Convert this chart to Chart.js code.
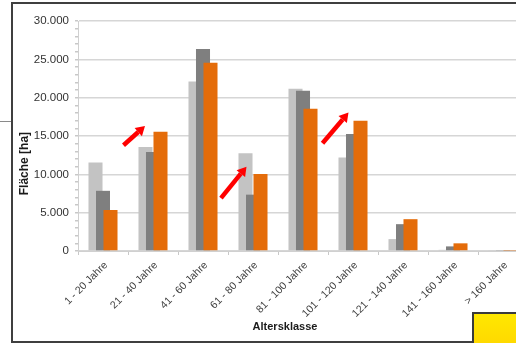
<!DOCTYPE html>
<html>
<head>
<meta charset="utf-8">
<script src="https://cdn.jsdelivr.net/npm/chart.js@4/dist/chart.umd.min.js"></script>
<style>
  html, body { margin: 0; padding: 0; background: #fff; overflow: hidden; }
  body { width: 516px; height: 343px; position: relative; }
  #frame { position: absolute; left: 11px; top: 2px; width: 560px; height: 337px;
           border: 2px solid #3f3f3f; box-sizing: content-box; }
  #stub { position: absolute; left: 0; top: 121px; width: 11px; height: 1px; background: #8a8a8a; }
  #wrap { position: absolute; left: 0; top: 0; width: 540px; height: 343px; }
  #badge { position: absolute; left: 472px; top: 312px; width: 60px; height: 40px;
           border: 2px solid #3a3a3a; background: linear-gradient(#ffe800, #ffd400); }
</style>
</head>
<body>
<div id="frame"></div>
<div id="stub"></div>
<div id="wrap"><canvas id="c" width="540" height="343"></canvas></div>
<div id="badge"></div>
<script>
// Altersklassen und Flächen (ha) je Erhebung
const categories = ['1 - 20 Jahre', '21 - 40 Jahre', '41 - 60 Jahre', '61 - 80 Jahre', '81 - 100 Jahre',
                    '101 - 120 Jahre', '121 - 140 Jahre', '141 - 160 Jahre', '> 160 Jahre'];
const flaecheA = [11550, 13550, 22100, 12750, 21150, 12200, 1550, 150, 80];
const flaecheB = [7850, 12900, 26350, 7350, 20900, 15250, 3500, 600, 120];
const flaecheC = [5350, 15550, 24550, 10050, 18550, 17000, 4150, 1000, 50];
const yTicks = [0, 5000, 10000, 15000, 20000, 25000, 30000];

// Hervorhebungspfeile in Achsenkoordinaten: [Kategorie-Index, Fläche]
const arrows = [
  { from: [0.41, 13800], to: [0.84, 16300] },
  { from: [2.36, 6900],  to: [2.87, 11000] },
  { from: [4.39, 14050], to: [4.91, 18050] }
];

const fmt = v => String(v).replace(/\B(?=(\d{3})+(?!\d))/g, '.');
const FONT = "'Liberation Sans', Arial, sans-serif";

const decor = {
  id: 'decor',
  // überlappende Säulen: spätere Reihe liegt jeweils über der vorherigen
  beforeDatasetsDraw(chart) {
    for (let i = 0; i < chart.data.datasets.length; i++) {
      chart.getDatasetMeta(i).controller.draw();
    }
    return false;
  },
  afterDraw(chart) {
    const { ctx, chartArea: ca, scales: { x, y } } = chart;
    ctx.save();
    ctx.strokeStyle = '#ff0000';
    ctx.fillStyle = '#ff0000';
    ctx.lineWidth = 4.5;
    ctx.lineCap = 'butt';
    arrows.forEach(a => {
      const x1 = x.getPixelForValue(a.from[0]), y1 = y.getPixelForValue(a.from[1]);
      const x2 = x.getPixelForValue(a.to[0]),   y2 = y.getPixelForValue(a.to[1]);
      const ang = Math.atan2(y2 - y1, x2 - x1);
      const head = 9, half = 5.5;
      const bx = x2 - head * Math.cos(ang), by = y2 - head * Math.sin(ang);
      ctx.beginPath();
      ctx.moveTo(x1, y1);
      ctx.lineTo(bx, by);
      ctx.stroke();
      ctx.beginPath();
      ctx.moveTo(x2, y2);
      ctx.lineTo(bx + half * Math.sin(ang), by - half * Math.cos(ang));
      ctx.lineTo(bx - half * Math.sin(ang), by + half * Math.cos(ang));
      ctx.closePath();
      ctx.fill();
    });

    ctx.fillStyle = '#1a1a1a';
    ctx.textAlign = 'center';
    ctx.textBaseline = 'middle';
    ctx.font = 'bold 11px ' + FONT;
    ctx.fillText('Altersklasse', ca.left + (ca.right - ca.left) * 0.46, ca.bottom + 76);
    ctx.font = 'bold 12px ' + FONT;
    ctx.translate(25, ca.top + (ca.bottom - ca.top) * 0.62);
    ctx.rotate(-Math.PI / 2);
    ctx.fillText('Fläche [ha]', 0, 0);
    ctx.restore();
  }
};

new Chart(document.getElementById('c'), {
  type: 'bar',
  data: {
    labels: categories,
    datasets: [
      { label: 'A', data: flaecheA, backgroundColor: '#c3c3c3' },
      { label: 'B', data: flaecheB, backgroundColor: '#7f7f7f' },
      { label: 'C', data: flaecheC, backgroundColor: '#e46c0a' }
    ]
  },
  options: {
    responsive: false,
    animation: false,
    layout: { padding: { left: 0, right: 12, top: 21, bottom: 0 } },
    datasets: { bar: { categoryPercentage: 0.45, barPercentage: 1.87 } },
    plugins: { legend: { display: false }, tooltip: { enabled: false } },
    scales: {
      x: {
        grid: { color: 'transparent', tickColor: '#c8c8c8', tickLength: 4, offset: true },
        border: { color: '#d0d0d0', width: 1 },
        ticks: { color: '#404040', font: { family: FONT, size: 10.5 }, minRotation: 45, maxRotation: 45,
                 padding: 4, labelOffset: 3, autoSkip: false },
        afterFit(s) { s.height = 92; }
      },
      y: {
        min: 0, max: 30000,
        grid: {
          color: c => (c.tick && yTicks.includes(c.tick.value)) ? '#d6d6d6' : 'transparent',
          tickColor: '#c8c8c8', tickLength: 3, lineWidth: 1.5
        },
        border: { color: '#d0d0d0', width: 1 },
        ticks: {
          stepSize: 1000, autoSkip: false, color: '#333', padding: 6,
          font: { family: FONT, size: 11.5 },
          callback: v => yTicks.includes(v) ? fmt(v) : ''
        },
        afterFit(s) { s.width = 78; }
      }
    }
  },
  plugins: [decor]
});
</script>
</body>
</html>
